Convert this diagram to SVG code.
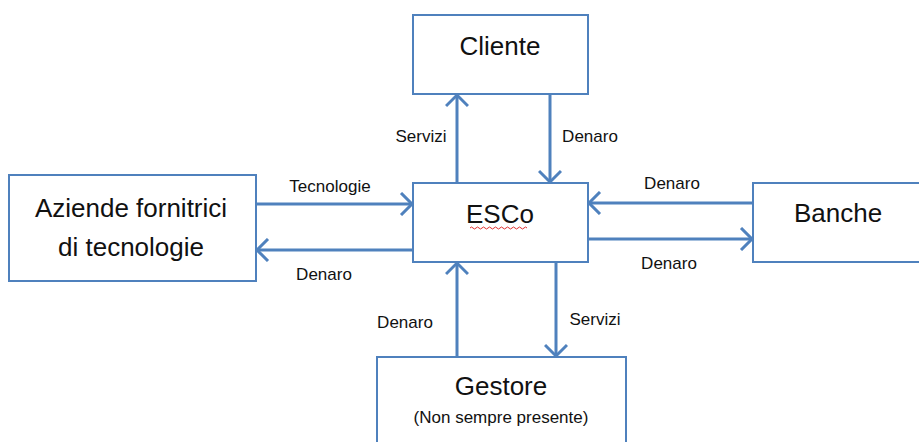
<svg xmlns="http://www.w3.org/2000/svg" width="919" height="442" viewBox="0 0 919 442">
<style>
.box{fill:#fff;stroke:#4f81bd;stroke-width:2}
.big{font-family:"Liberation Sans",Arial,sans-serif;font-size:26px;fill:#111;text-anchor:middle}
.sm{font-family:"Liberation Sans",Arial,sans-serif;font-size:17px;fill:#111;text-anchor:middle}
.ln{stroke:#4f81bd;stroke-width:3;fill:none;marker-end:url(#ah)}
</style>
<defs>
<marker id="ah" markerUnits="userSpaceOnUse" markerWidth="16" markerHeight="24" refX="13" refY="12" orient="auto">
<path d="M2,1 L13,12 L2,23" fill="none" stroke="#4f81bd" stroke-width="3"/>
</marker>
</defs>
<rect width="919" height="442" fill="#fff"/>
<g id="cliente"><rect class="box" x="413" y="15" width="175" height="79"/><text class="big" x="500" y="55">Cliente</text></g>
<g id="aziende"><rect class="box" x="9" y="175" width="247" height="106"/><text class="big" x="131" y="217">Aziende fornitrici</text><text class="big" x="131" y="256">di tecnologie</text></g>
<g id="esco"><rect class="box" x="413" y="183" width="175" height="79"/><text class="big" x="500" y="223">ESCo</text><path d="M470,228 q1.5,-2 3,0 t3,0 t3,0 t3,0 t3,0 t3,0 t3,0 t3,0 t3,0 t3,0 t3,0 t3,0 t3,0 t3,0 t3,0 t3,0 t3,0 t3,0 t3,0" fill="none" stroke="#e03030" stroke-width="1"/></g>
<g id="banche"><rect class="box" x="753" y="183" width="170" height="79"/><text class="big" x="838" y="222">Banche</text></g>
<g id="gestore"><rect class="box" x="377" y="357" width="249" height="90"/><text class="big" x="501" y="395">Gestore</text><text class="sm" x="501" y="423">(Non sempre presente)</text></g>
<g id="connectors">
<line class="ln" x1="457" y1="183" x2="457" y2="95"/>
<line class="ln" x1="550" y1="94" x2="550" y2="182"/>
<line class="ln" x1="256" y1="204" x2="412" y2="204"/>
<line class="ln" x1="413" y1="250" x2="257" y2="250"/>
<line class="ln" x1="753" y1="203" x2="589" y2="203"/>
<line class="ln" x1="588" y1="239" x2="752" y2="239"/>
<line class="ln" x1="457" y1="357" x2="457" y2="263"/>
<line class="ln" x1="556" y1="262" x2="556" y2="356"/>
</g>
<g id="labels">
<text class="sm" x="421" y="142">Servizi</text>
<text class="sm" x="590" y="142">Denaro</text>
<text class="sm" x="330" y="192">Tecnologie</text>
<text class="sm" x="324" y="280">Denaro</text>
<text class="sm" x="672" y="189">Denaro</text>
<text class="sm" x="669" y="269">Denaro</text>
<text class="sm" x="405" y="328">Denaro</text>
<text class="sm" x="595" y="325">Servizi</text>
</g>
</svg>
